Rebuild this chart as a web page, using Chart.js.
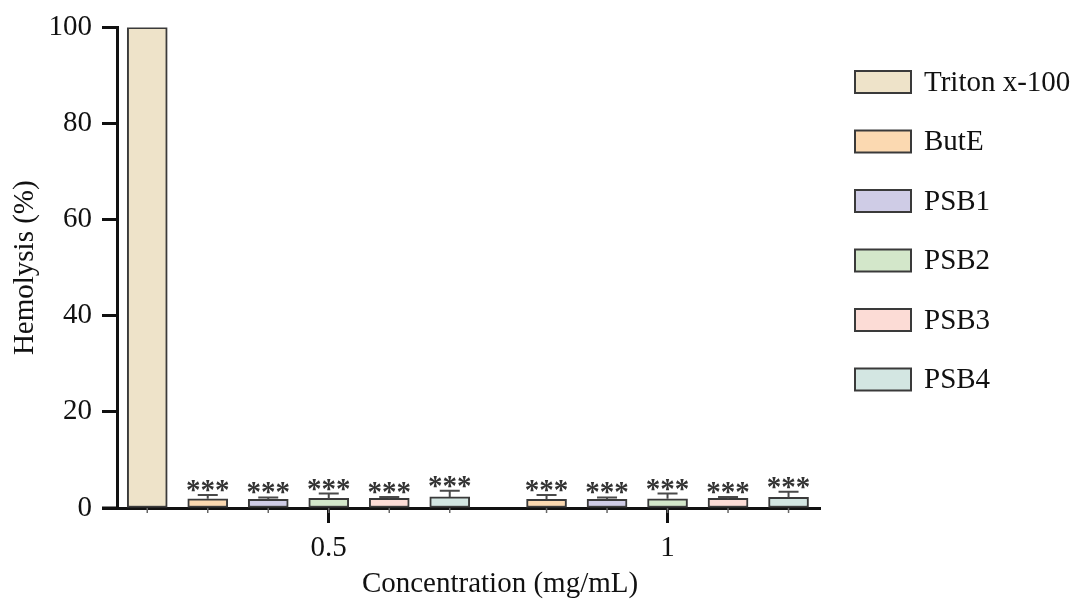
<!DOCTYPE html>
<html>
<head>
<meta charset="utf-8">
<title>Hemolysis</title>
<script src="https://cdn.jsdelivr.net/npm/chart.js@4/dist/chart.umd.min.js"></script>
<style>
  html, body { margin: 0; padding: 0; background: #fff; }
  #wrap { width: 1080px; height: 601px; }
</style>
</head>
<body>
<div id="wrap"><canvas id="chart"></canvas></div>
<script>
// Data (hemolysis %, mean and upper SD)
const concentrations = ['0.5', '1'];
const seriesNames = ['ButE', 'PSB1', 'PSB2', 'PSB3', 'PSB4'];
const tritonName = 'Triton x-100';
const tritonValue = 100;
const butE = [1.9, 1.8];
const psb1 = [1.8, 1.8];
const psb2 = [2.0, 1.9];
const psb3 = [2.0, 2.0];
const psb4 = [2.3, 2.2];
const butESd = [0.8, 0.9];
const psb1Sd = [0.4, 0.4];
const psb2Sd = [1.0, 1.1];
const psb3Sd = [0.3, 0.3];
const psb4Sd = [1.3, 1.2];
const yTicks = [0, 20, 40, 60, 80, 100];

const seriesValues = [butE, psb1, psb2, psb3, psb4];
const seriesSd = [butESd, psb1Sd, psb2Sd, psb3Sd, psb4Sd];
const colors = ['#fbd9b1', '#cfcce6', '#d3e7ca', '#fcdcd6', '#d3e6e2'];
const tritonColor = '#eee3c9';

// Layout of the slots along x: Triton at 0, each concentration group after it
const groupStart = [1, 6.6];
const groupCenters = groupStart.map(s => s + (seriesNames.length - 1) / 2);
const FONT = "'Liberation Serif', 'Times New Roman', serif";

const datasets = [{
    label: tritonName,
    data: [{ x: 0, y: tritonValue, sd: 0, stars: false }],
    backgroundColor: tritonColor
}];
seriesNames.forEach((name, i) => {
    datasets.push({
        label: name,
        data: concentrations.map((c, g) => ({
            x: groupStart[g] + i,
            y: seriesValues[i][g],
            sd: seriesSd[i][g],
            stars: true
        })),
        backgroundColor: colors[i]
    });
});
datasets.forEach(ds => {
    ds.borderColor = '#3a3a3a';
    ds.borderWidth = 2;
    ds.borderSkipped = false;
    ds.barThickness = 40;
    ds.grouped = false;
});

// Error bars, stars, small ticks, x-axis extension, x title and legend
const extrasPlugin = {
    id: 'extras',
    afterDatasetsDraw(chart) {
        const ctx = chart.ctx;
        const x = chart.scales.x, y = chart.scales.y;
        const area = chart.chartArea;
        ctx.save();

        chart.data.datasets.forEach(ds => {
            ds.data.forEach(p => {
                const px = x.getPixelForValue(p.x);
                const top = y.getPixelForValue(p.y);
                const errTop = y.getPixelForValue(p.y + p.sd);
                if (p.sd > 0) {
                    ctx.strokeStyle = '#4a4a4a';
                    ctx.lineWidth = 2;
                    ctx.beginPath();
                    ctx.moveTo(px, top);
                    ctx.lineTo(px, errTop);
                    ctx.moveTo(px - 10, errTop);
                    ctx.lineTo(px + 10, errTop);
                    ctx.stroke();
                }
                if (p.stars) {
                    ctx.fillStyle = '#333';
                    ctx.font = 'bold 29px ' + FONT;
                    ctx.textAlign = 'center';
                    ctx.textBaseline = 'alphabetic';
                    ctx.fillText('***', px, errTop + 4);
                }
                // minor tick below each bar
                ctx.strokeStyle = '#666';
                ctx.lineWidth = 1.5;
                ctx.beginPath();
                ctx.moveTo(px, area.bottom);
                ctx.lineTo(px, area.bottom + 5);
                ctx.stroke();
            });
        });

        // x axis line continues left of the y axis
        ctx.strokeStyle = '#111';
        ctx.lineWidth = 3;
        ctx.beginPath();
        ctx.moveTo(area.left - 15, area.bottom);
        ctx.lineTo(area.left, area.bottom);
        ctx.stroke();

        // x axis title
        ctx.fillStyle = '#111';
        ctx.font = '29px ' + FONT;
        ctx.textAlign = 'center';
        ctx.textBaseline = 'middle';
        ctx.fillText('Concentration (mg/mL)', area.left + 383, 584);

        // legend
        ctx.textAlign = 'left';
        chart.data.datasets.forEach((ds, i) => {
            const cy = 82 + i * 59.5;
            ctx.fillStyle = ds.backgroundColor;
            ctx.fillRect(855, cy - 11, 56, 22);
            ctx.strokeStyle = '#3a3a3a';
            ctx.lineWidth = 2;
            ctx.strokeRect(855, cy - 11, 56, 22);
            ctx.fillStyle = '#111';
            ctx.font = '29px ' + FONT;
            ctx.fillText(ds.label, 924, cy + 1);
        });
        ctx.restore();
    }
};

new Chart(document.getElementById('chart'), {
    type: 'bar',
    data: { datasets },
    options: {
        responsive: true,
        maintainAspectRatio: false,
        animation: false,
        layout: { padding: { top: 25, right: 260, left: 0, bottom: 0 } },
        plugins: {
            legend: { display: false },
            tooltip: { enabled: false }
        },
        scales: {
            x: {
                type: 'linear',
                min: -0.5,
                max: 11.12,
                offset: false,
                afterFit: s => { s.height = 93; },
                afterBuildTicks: s => { s.ticks = groupCenters.map(v => ({ value: v })); },
                grid: {
                    offset: false,
                    drawOnChartArea: false,
                    drawTicks: true,
                    tickLength: 15,
                    tickWidth: 3,
                    tickColor: '#111'
                },
                border: { display: true, color: '#111', width: 3 },
                ticks: {
                    autoSkip: false,
                    maxRotation: 0,
                    padding: 8,
                    color: '#111',
                    font: { family: FONT, size: 29 },
                    callback: (v, i) => concentrations[i]
                }
            },
            y: {
                min: 0,
                max: 100,
                afterFit: s => { s.width = 117; },
                afterBuildTicks: s => { s.ticks = yTicks.map(v => ({ value: v })); },
                grid: {
                    drawOnChartArea: false,
                    drawTicks: true,
                    tickLength: 15,
                    tickWidth: 3,
                    tickColor: '#111'
                },
                border: { display: true, color: '#111', width: 3 },
                ticks: {
                    padding: 10,
                    color: '#111',
                    font: { family: FONT, size: 29 }
                },
                title: {
                    display: true,
                    text: 'Hemolysis (%)',
                    color: '#111',
                    font: { family: FONT, size: 29 },
                    padding: { top: 8, bottom: 0 }
                }
            }
        }
    },
    plugins: [extrasPlugin]
});
</script>
</body>
</html>
